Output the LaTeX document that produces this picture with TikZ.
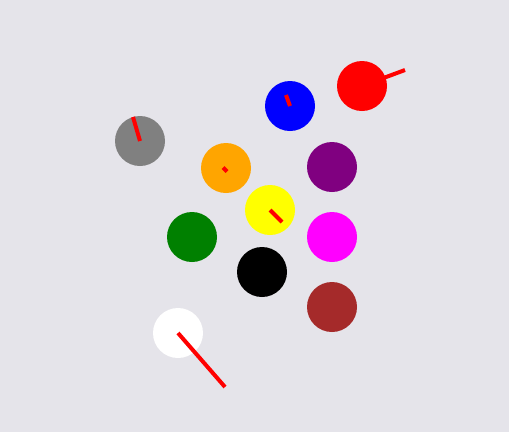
\documentclass[tikz,border=0pt]{standalone}
\begin{document}
\begin{tikzpicture}[x=1pt,y=-1pt,
  ball/.style={circle,minimum size=50pt,inner sep=0pt,outer sep=0pt},
  stick/.style={draw=cred,line width=4pt}]
\definecolor{bg}{RGB}{229,228,234}
\definecolor{cbrown}{RGB}{165,42,42}
\definecolor{cgray}{RGB}{128,128,128}
\definecolor{cblue}{RGB}{0,0,255}
\definecolor{cred}{RGB}{255,0,0}
\definecolor{corange}{RGB}{255,165,0}
\definecolor{cpurple}{RGB}{128,0,128}
\definecolor{cyellow}{RGB}{255,255,0}
\definecolor{cgreen}{RGB}{0,128,0}
\definecolor{cmagenta}{RGB}{255,0,255}
\definecolor{cblack}{RGB}{0,0,0}
\definecolor{cwhite}{RGB}{255,255,255}
\fill[bg] (0,0) rectangle (509,432);
\useasboundingbox (0,0) rectangle (509,432);
\node[ball,fill=cgray] (gray) at (140,141) {};
\node[ball,fill=cblue] (blue) at (290,106) {};
\node[ball,fill=cred] (red) at (362,86) {};
\node[ball,fill=corange] (orange) at (226,168) {};
\node[ball,fill=cpurple] (purple) at (332,167) {};
\node[ball,fill=cyellow] (yellow) at (270,210) {};
\node[ball,fill=cgreen] (green) at (192,237) {};
\node[ball,fill=cmagenta] (magenta) at (332,237) {};
\node[ball,fill=cblack] (black) at (262,272) {};
\node[ball,fill=cbrown] (brown) at (332,307) {};
\node[ball,fill=cwhite] (white) at (178,333) {};
\coordinate (gtip) at (133,117);
\coordinate (btip) at (286,95);
\coordinate (rtip) at (405,70);
\coordinate (otail) at (223,167.5);
\coordinate (otip) at (227,171.5);
\coordinate (ytip) at (282,222);
\coordinate (wtip) at (225,387);
\draw[stick] (gray.center) -- (gtip);
\draw[stick] (blue.center) -- (btip);
\draw[stick] (red.center) -- (rtip);
\draw[stick] (otail) -- (otip);
\draw[stick] (yellow.center) -- (ytip);
\draw[stick] (white.center) -- (wtip);
\end{tikzpicture}
\end{document}
